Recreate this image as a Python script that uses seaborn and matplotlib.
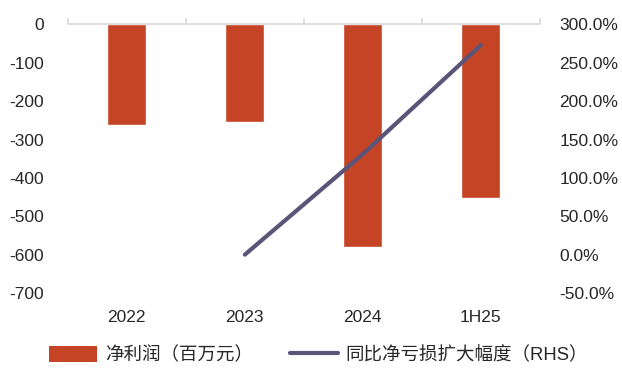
import matplotlib
matplotlib.use("Agg")
import matplotlib.pyplot as plt
import seaborn as sns
import numpy as np
import pandas as pd
from matplotlib.patches import Patch
from matplotlib.lines import Line2D

categories = ["2022", "2023", "2024", "1H25"]
net_profit = [-263, -253, -579, -453]
line_categories = ["2023", "2024", "1H25"]
loss_growth = [0.0, 131.0, 273.0]

bar_label = "净利润（百万元）"
line_label = "同比净亏损扩大幅度（RHS）"

BAR_COLOR = "#C44425"
LINE_COLOR = "#595478"

sns.set_theme(style="white")
plt.rcParams["font.family"] = ["Liberation Sans", "Noto Sans CJK SC"]
plt.rcParams["font.size"] = 12

fig = plt.figure(figsize=(6.22, 3.70), dpi=100)
ax = fig.add_axes([0.109, 0.208, 0.759, 0.726])

df_bar = pd.DataFrame({"cat": categories, "val": net_profit})
sns.barplot(data=df_bar, x="cat", y="val", order=categories, color=BAR_COLOR,
            width=0.33, saturation=1, ax=ax)
ax.set_ylim(-700, 0)
ax.set_yticks(np.arange(-700, 1, 100))
ax.set_yticklabels([f"{v}" for v in np.arange(-700, 1, 100)], fontsize=12.5)
ax.set_xlim(-0.5, len(categories) - 0.5)
ax.set_xlabel("")
ax.set_ylabel("")
for s in ["left", "right", "bottom"]:
    ax.spines[s].set_visible(False)
ax.spines["top"].set_visible(True)
ax.spines["top"].set_color("#D9D9D9")
ax.spines["top"].set_linewidth(1.2)
ax.tick_params(axis="x", which="major", length=0, labelsize=12.5, pad=12)
ax.tick_params(axis="y", length=0, pad=17)
ax.set_xticks(np.arange(-0.5, len(categories), 1), minor=True)
ax.tick_params(axis="x", which="minor", top=True, bottom=False, direction="out",
               length=4, color="#D9D9D9", width=1.2)

ax2 = ax.twinx()
xpos = [categories.index(c) for c in line_categories]
df_line = pd.DataFrame({"x": xpos, "y": loss_growth})
sns.lineplot(data=df_line, x="x", y="y", color=LINE_COLOR, linewidth=3, ax=ax2,
             solid_capstyle="round")
ax2.set_ylim(-50, 300)
ax2.set_yticks(np.arange(-50, 301, 50))
ax2.set_yticklabels([f"{v:.1f}%" for v in np.arange(-50, 301, 50)], fontsize=12.5)
ax2.set_xlim(-0.5, len(categories) - 0.5)
ax2.set_ylabel("")
ax2.set_xlabel("")
for s in ["left", "right", "bottom", "top"]:
    ax2.spines[s].set_visible(False)
ax2.tick_params(axis="y", length=0, pad=14)

handles = [Patch(facecolor=BAR_COLOR, edgecolor="none", label=bar_label),
           Line2D([0], [0], color=LINE_COLOR, linewidth=3, label=line_label,
                  solid_capstyle="round")]
fig.legend(handles=handles, loc="center", bbox_to_anchor=(0.512, 0.04), ncol=2,
           frameon=False, fontsize=13.3, handlelength=2.6, handleheight=0.9,
           columnspacing=2.0, handletextpad=0.4)

fig.savefig("out.png", dpi=100)
